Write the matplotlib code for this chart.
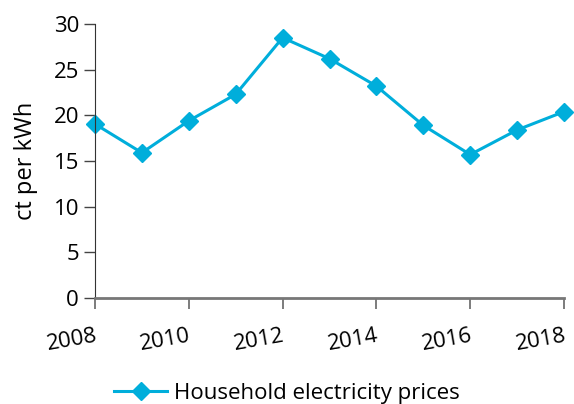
import matplotlib.pyplot as plt

years = [2008, 2009, 2010, 2011, 2012, 2013, 2014, 2015, 2016, 2017, 2018]
prices = [19.05, 15.9, 19.4, 22.3, 28.5, 26.2, 23.2, 18.9, 15.7, 18.4, 20.4]
xticks = [2008, 2010, 2012, 2014, 2016, 2018]
yticks = [0, 5, 10, 15, 20, 25, 30]

plt.rcParams['font.family'] = ['Open Sans', 'DejaVu Sans']
blue = '#00aedb'

fig = plt.figure(figsize=(5.74, 4.04), dpi=100)
ax = fig.add_axes([0.1655, 0.2624, 0.8171, 0.6782])

ax.plot(years, prices, color=blue, lw=2.2, marker='D', ms=9,
        label='Household electricity prices', clip_on=False)

ax.set_xlim(2008, 2018)
ax.set_ylim(0, 30)
ax.set_xticks(xticks)
ax.set_yticks(yticks)
ax.set_xticklabels([str(x) for x in xticks], rotation=10, fontsize=16,
                   ha='right', rotation_mode='anchor')
ax.tick_params(axis='y', labelsize=16, length=8, width=1, color='#444444')
ax.tick_params(axis='x', length=8, width=1.2, color='#666666', pad=12)
ax.set_ylabel('ct per kWh', fontsize=17, labelpad=11)

for s in ['top', 'right']:
    ax.spines[s].set_visible(False)
ax.spines['left'].set_color('#333333')
ax.spines['bottom'].set_color('#777777')
ax.spines['bottom'].set_linewidth(2)

fig.legend(loc='lower center', bbox_to_anchor=(0.5, -0.05), frameon=False,
           fontsize=16, handlelength=2.4, handletextpad=0.3)

fig.savefig('out.png', dpi=100)
